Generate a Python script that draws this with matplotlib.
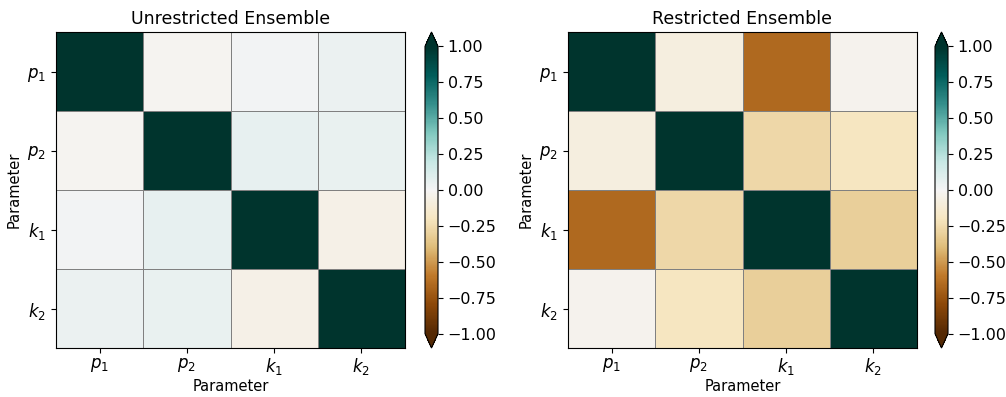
import numpy as np
import matplotlib.pyplot as plt
from matplotlib.colors import ListedColormap

params = [r"$p_1$", r"$p_2$", r"$k_1$", r"$k_2$"]

# correlation matrices (rows/cols follow params order)
corr_unrestricted = np.array([
    [1.00, -0.02, 0.01, 0.04],
    [-0.02, 1.00, 0.06, 0.05],
    [0.01, 0.06, 1.00, -0.05],
    [0.04, 0.05, -0.05, 1.00],
])
corr_restricted = np.array([
    [1.00, -0.08, -0.66, -0.03],
    [-0.08, 1.00, -0.27, -0.20],
    [-0.66, -0.27, 1.00, -0.31],
    [-0.03, -0.20, -0.31, 1.00],
])
titles = ["Unrestricted Ensemble", "Restricted Ensemble"]

# BrBG with a slightly warmer tone
base = plt.get_cmap('BrBG')(np.linspace(0, 1, 256))
base[:, 1] = base[:, 1] ** 1.1
base[:, 2] = base[:, 2] ** 1.04
cmap = ListedColormap(base)

plt.rcParams['font.size'] = 11

fig = plt.figure(figsize=(10.06, 3.97), dpi=100)
W, H = 1006, 397
panels = [
    (56, 405, 425),
    (568, 917, 935),
]
top, bottom = 32, 348

for (x0, x1, cx), corr, title in zip(panels, [corr_unrestricted, corr_restricted], titles):
    ax = fig.add_axes([x0 / W, 1 - bottom / H, (x1 - x0) / W, (bottom - top) / H])
    cax = fig.add_axes([cx / W, 1 - bottom / H, 13 / W, (bottom - top) / H])
    mesh = ax.pcolormesh(corr, cmap=cmap, vmin=-1, vmax=1,
                         edgecolors='grey', linewidth=0.6)
    ax.set_xlim(0, 4)
    ax.set_ylim(4, 0)
    ax.set_xticks(np.arange(4) + 0.5)
    ax.set_yticks(np.arange(4) + 0.5)
    ax.set_xticklabels(params, fontsize=12)
    ax.set_yticklabels(params, fontsize=12)
    ax.tick_params(axis='x', pad=2.5)
    ax.set_xlabel("Parameter", fontsize=10.5, labelpad=1)
    ax.set_ylabel("Parameter", fontsize=10.5)
    ax.set_title(title, fontsize=12.5)
    cb = fig.colorbar(mesh, cax=cax, extend='both')
    cb.set_ticks([-1, -0.75, -0.5, -0.25, 0, 0.25, 0.5, 0.75, 1])
    cb.ax.tick_params(labelsize=11.5)

fig.savefig("out.png", dpi=100)
